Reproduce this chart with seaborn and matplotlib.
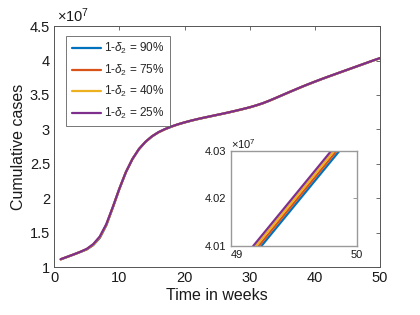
import matplotlib
matplotlib.use("Agg")
import matplotlib.pyplot as plt
import seaborn as sns
import pandas as pd

# Data (cumulative cases, in units of 1e7)
weeks = list(range(1, 51))
cases_25 = [1.115, 1.150, 1.185, 1.222, 1.265, 1.335, 1.445, 1.625, 1.875, 2.140,
            2.380, 2.570, 2.715, 2.820, 2.900, 2.960, 3.005, 3.043, 3.075, 3.103,
            3.128, 3.151, 3.172, 3.192, 3.212, 3.232, 3.253, 3.275, 3.298, 3.322,
            3.350, 3.381, 3.418, 3.458, 3.499, 3.540, 3.580, 3.620, 3.658, 3.695,
            3.731, 3.766, 3.800, 3.834, 3.868, 3.902, 3.936, 3.970, 4.0042, 4.0365]
series_labels = ["90%", "75%", "40%", "25%"]
series_offsets = [-0.0021, -0.0014, -0.0007, 0.0]   # small shifts visible only in the zoom
colors = ["#0072BD", "#D95319", "#EDB120", "#7E2F8E"]
# early-phase lag (visible around weeks 5-8 in the main plot)
early_lag = [0.0, 0.0, 0.0, 0.0, -0.006, -0.012, -0.018, -0.015, -0.008, -0.003]

rows = []
for lab, off in zip(series_labels, series_offsets):
    frac = -off / 0.0021 if off != 0 else 0.0
    for i, (t, v) in enumerate(zip(weeks, cases_25)):
        lag = early_lag[i] * frac if i < len(early_lag) else 0.0
        rows.append({"week": t, "cases": v + off + lag,
                     "label": "1-$\\delta_2$ = " + lab})
df = pd.DataFrame(rows)

sns.set_theme(style="white")
plt.rcParams['font.family'] = ['Liberation Sans', 'DejaVu Sans']
plt.rcParams['mathtext.fontset'] = 'custom'
plt.rcParams['mathtext.it'] = 'Liberation Sans:italic'
plt.rcParams['mathtext.rm'] = 'Liberation Sans'

fig = plt.figure(figsize=(4.2, 3.15), dpi=100)
ax = fig.add_axes([0.129, 0.152, 0.776, 0.765])
hue_order = ["1-$\\delta_2$ = " + l for l in series_labels]
sns.lineplot(data=df, x="week", y="cases", hue="label", hue_order=hue_order,
             palette=colors, linewidth=1.6, ax=ax, legend=True)
ax.set_xlim(0, 50)
ax.set_ylim(1, 4.5)
ax.set_xticks([0, 10, 20, 30, 40, 50])
ax.set_yticks([1, 1.5, 2, 2.5, 3, 3.5, 4, 4.5])
ax.set_yticklabels(["1", "1.5", "2", "2.5", "3", "3.5", "4", "4.5"])
ax.set_xlabel("Time in weeks", fontsize=11.5, color="#1a1a1a", labelpad=2)
ax.set_ylabel("Cumulative cases", fontsize=11.5, color="#1a1a1a", labelpad=3)
ax.tick_params(direction="in", length=3, width=0.6, top=True, right=True,
               labelsize=10.5, colors="#1a1a1a", pad=3)
ax.tick_params(axis="both", color="#555555")
for s in ax.spines.values():
    s.set_color("#555555")
    s.set_linewidth(0.7)
ax.text(0.01, 1.005, "$\\times$10$^7$", transform=ax.transAxes, fontsize=10.5,
        ha="left", va="bottom", color="#1a1a1a")
leg = ax.legend(loc="upper left", bbox_to_anchor=(0.037, 0.96), fontsize=8.5,
                frameon=True, fancybox=False, handlelength=2.5, borderpad=0.45,
                labelspacing=0.55, handletextpad=0.25, borderaxespad=0.0)
leg.get_frame().set_edgecolor("#555555")
leg.get_frame().set_linewidth(0.7)
for h in leg.get_lines():
    h.set_linewidth(1.6)

# Inset
axi = fig.add_axes([0.549, 0.219, 0.300, 0.302])
sns.lineplot(data=df, x="week", y="cases", hue="label", hue_order=hue_order,
             palette=colors, linewidth=1.6, ax=axi, legend=False)
axi.set_xlim(49, 50)
axi.set_ylim(4.01, 4.03)
axi.set_xticks([49, 50])
axi.set_xticklabels(["49", "50"])
axi.set_yticks([4.01, 4.02, 4.03])
axi.set_yticklabels(["4.01", "4.02", "4.03"])
axi.set_xlabel("")
axi.set_ylabel("")
axi.tick_params(direction="in", length=3, width=0.6, top=True, right=True,
                labelsize=8, colors="#1a1a1a", pad=3)
axi.tick_params(axis="both", color="#888888")
axi.get_xticklabels()[0].set_ha("left")
for s in axi.spines.values():
    s.set_color("#999999")
    s.set_linewidth(1.0)
axi.text(0.0, 1.0, "$\\times$10$^7$", transform=axi.transAxes, fontsize=8,
         ha="left", va="bottom", color="#1a1a1a")

fig.savefig("out.png", dpi=100)
